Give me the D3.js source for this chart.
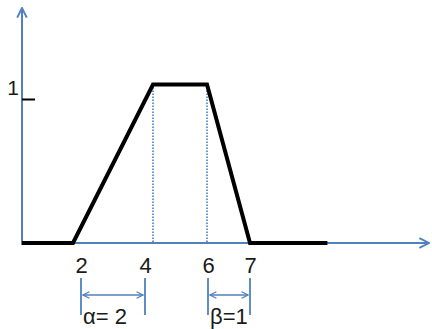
<!DOCTYPE html>
<html>
<head>
<meta charset="utf-8">
<script src="https://cdn.jsdelivr.net/npm/d3@7"></script>
<style>
  body { margin: 0; background: #fff; }
  text { font-family: "Liberation Sans", Arial, sans-serif; fill: #1a1a1a; }
</style>
</head>
<body>
<div id="plot"></div>
<script>
// trapezoid membership function
const curveX = [0, 2, 4, 6, 7, 8.8];
const curveY = [0, 0, 1.1, 1.1, 0, 0];
const xTicks = [2, 4, 6, 7];
const yTicks = [1];
const dotted = [4, 6];
const spans = [
  {from: 2, to: 4, label: "α= 2"},
  {from: 6, to: 7, label: "β=1"}
];

const W = 432, H = 329;
const blue = "#4f81bd";

svg = d3.select("#plot").append("svg").attr("width", W).attr("height", H);

// hand drawn figure, so the x spacing is not uniform
x = d3.scaleLinear().domain([0, 2, 4, 6, 7]).range([22, 73, 153, 207, 250]);
xNote = d3.scaleLinear().domain([2, 4, 6, 7]).range([81, 145, 208, 250]);
y = d3.scaleLinear().domain([0, 1]).range([243, 99]);

const defs = svg.append("defs");
function chevron(id, size) {
  defs.append("marker")
      .attr("id", id)
      .attr("viewBox", "0 -5 10 10")
      .attr("refX", 9).attr("refY", 0)
      .attr("markerUnits", "userSpaceOnUse")
      .attr("markerWidth", size).attr("markerHeight", size)
      .attr("orient", "auto-start-reverse")
    .append("path")
      .attr("d", "M1,-4L9,0L1,4")
      .attr("fill", "none")
      .attr("stroke", blue)
      .attr("stroke-width", 1.6);
}
chevron("axArrow", 12);
chevron("smArrow", 8);

// dotted guides
svg.append("g")
  .selectAll("line")
  .data(dotted)
  .join("line")
    .attr("x1", d => x(d)).attr("x2", d => x(d))
    .attr("y1", y(1.1)).attr("y2", y(0))
    .attr("stroke", "#6b98d2")
    .attr("stroke-width", 2)
    .attr("stroke-dasharray", "1.5,1.5");

// axes lines
svg.append("line")
    .attr("x1", x(0)).attr("x2", 429)
    .attr("y1", y(0)).attr("y2", y(0))
    .attr("stroke", blue).attr("stroke-width", 2)
    .attr("marker-end", "url(#axArrow)");
svg.append("line")
    .attr("x1", x(0)).attr("x2", x(0))
    .attr("y1", y(0) + 2).attr("y2", 8)
    .attr("stroke", blue).attr("stroke-width", 2)
    .attr("marker-end", "url(#axArrow)");

// curve
const pts = curveX.map((d, i) => [d, curveY[i]]);
svg.append("path")
    .datum(pts)
    .attr("d", d3.line().x(d => x(d[0])).y(d => y(d[1])))
    .attr("fill", "none")
    .attr("stroke", "#000")
    .attr("stroke-width", 4)
    .attr("stroke-linejoin", "miter");

// x tick labels
const gx = svg.append("g")
    .attr("transform", `translate(0,${y(0)})`)
    .call(d3.axisBottom(xNote).tickValues(xTicks).tickSize(0).tickPadding(14).tickFormat(d3.format("d")));
gx.select(".domain").remove();
gx.selectAll("text").style("font-size", "22px").attr("fill", "#1a1a1a")
  .style("font-family", '"Liberation Sans", Arial, sans-serif');

// y tick
const gy = svg.append("g")
    .attr("transform", `translate(${x(0)},0)`)
    .call(d3.axisLeft(y).tickValues(yTicks).tickFormat(d3.format("d"))
      .tickSizeInner(-13).tickSizeOuter(0).tickPadding(3));
gy.select(".domain").remove();
gy.selectAll("line").attr("stroke", "#000").attr("stroke-width", 2);
gy.selectAll("text").style("font-size", "21px").attr("fill", "#1a1a1a").attr("dy", "-0.2em")
  .style("font-family", '"Liberation Sans", Arial, sans-serif');

// alpha / beta spans
const sp = svg.append("g").selectAll("g").data(spans).join("g");
sp.append("line")
    .attr("x1", d => xNote(d.from)).attr("x2", d => xNote(d.from))
    .attr("y1", 278).attr("y2", 315)
    .attr("stroke", blue).attr("stroke-width", 1.8);
sp.append("line")
    .attr("x1", d => xNote(d.to)).attr("x2", d => xNote(d.to))
    .attr("y1", 278).attr("y2", 315)
    .attr("stroke", blue).attr("stroke-width", 1.8);
sp.append("line")
    .attr("x1", d => xNote(d.from) + 2).attr("x2", d => xNote(d.to) - 2)
    .attr("y1", 295).attr("y2", 295)
    .attr("stroke", blue).attr("stroke-width", 1.5)
    .attr("marker-start", "url(#smArrow)")
    .attr("marker-end", "url(#smArrow)");
sp.append("text")
    .attr("x", d => xNote(d.from) + 2)
    .attr("y", 324)
    .style("font-size", "22px")
    .text(d => d.label);
</script>
</body>
</html>
